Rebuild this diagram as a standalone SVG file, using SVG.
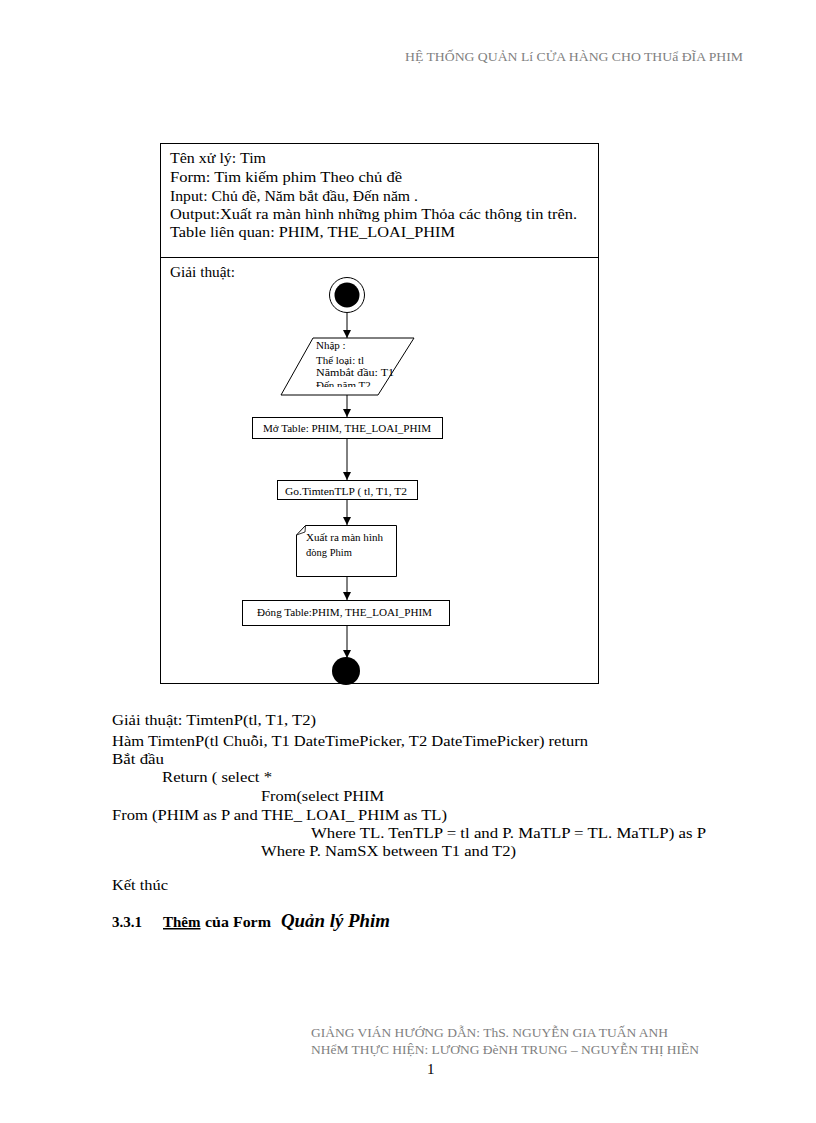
<svg xmlns="http://www.w3.org/2000/svg" width="816" height="1123" viewBox="0 0 816 1123">
<style>
  text { font-family: "Liberation Serif", "Times New Roman", serif; fill: #000; }
  .hdr { font-size: 12px; fill: #808080; }
  .body { font-size: 15px; }
  .small { font-size: 10.5px; }
  .para { font-size: 11px; }
  .shape { fill: #fff; stroke: #000; stroke-width: 1; }
  .frame { fill: none; stroke: #000; stroke-width: 1; }
  .conn { stroke: #000; stroke-width: 1; fill: none; marker-end: url(#arrow); }
</style>
<defs>
  <marker id="arrow" markerWidth="10" markerHeight="10" refX="9" refY="5" orient="auto" markerUnits="userSpaceOnUse">
    <path d="M1,1 L9,5 L1,9 Z" fill="#000"/>
  </marker>
  <clipPath id="paraClip">
    <rect x="280" y="338" width="140" height="49"/>
  </clipPath>
</defs>
<rect width="816" height="1123" fill="#fff"/>

<!-- header -->
<text class="hdr" x="405" y="61" textLength="338" lengthAdjust="spacingAndGlyphs">HỆ THỐNG  QUẢN  Lí CỬA HÀNG CHO  THUẩ ĐĨA PHIM</text>

<!-- frame -->
<g id="frame">
  <rect class="frame" x="160.5" y="143.5" width="438" height="540"/>
  <line x1="160.5" y1="257.5" x2="598.5" y2="257.5" stroke="#000"/>
  <text class="body" x="170" y="163" textLength="96" lengthAdjust="spacingAndGlyphs">Tên xử lý:  Tim</text>
  <text class="body" x="170" y="182" textLength="232" lengthAdjust="spacingAndGlyphs">Form:  Tim  kiếm  phim  Theo  chủ  đề</text>
  <text class="body" x="170" y="201" textLength="248" lengthAdjust="spacingAndGlyphs">Input:  Chủ đề, Năm bắt đầu, Đến năm  .</text>
  <text class="body" x="170" y="219" textLength="407" lengthAdjust="spacingAndGlyphs">Output:Xuất  ra màn  hình  những  phim  Thỏa các  thông  tin  trên.</text>
  <text class="body" x="170" y="237" textLength="285" lengthAdjust="spacingAndGlyphs">Table liên  quan:  PHIM, THE_LOAI_PHIM</text>
  <text class="body" x="170" y="277" textLength="65" lengthAdjust="spacingAndGlyphs">Giải  thuật:</text>
</g>

<!-- connectors -->
<g id="connectors">
  <line class="conn" x1="347" y1="313" x2="347" y2="338"/>
  <line class="conn" x1="347" y1="395" x2="347" y2="417"/>
  <line class="conn" x1="347" y1="438" x2="347" y2="480"/>
  <line class="conn" x1="347" y1="499" x2="347" y2="525"/>
  <line class="conn" x1="347" y1="576" x2="347" y2="600"/>
  <line class="conn" x1="347" y1="626" x2="347" y2="658"/>
</g>

<g id="start">
  <circle cx="347" cy="295" r="17.5" fill="#fff" stroke="#000"/>
  <circle cx="347" cy="295" r="12.5" fill="#000"/>
</g>

<g id="input">
  <polygon class="shape" points="313,338 414,338 378,395 281,395"/>
  <g clip-path="url(#paraClip)">
    <text class="para" x="316" y="349">Nhập :</text>
    <text class="para" x="316" y="364" textLength="48" lengthAdjust="spacingAndGlyphs">Thể loại: tl</text>
    <text class="para" x="316" y="376" textLength="78" lengthAdjust="spacingAndGlyphs">Nămbắt đầu: T1</text>
    <text class="para" x="316" y="389">Đến năm T2</text>
  </g>
</g>

<g id="open">
  <rect class="shape" x="252.5" y="417.5" width="190" height="21"/>
  <text class="small" x="347" y="431.5" text-anchor="middle" textLength="168" lengthAdjust="spacingAndGlyphs">Mở Table: PHIM, THE_LOAI_PHIM</text>
</g>

<g id="call">
  <rect class="shape" x="277.5" y="480.5" width="140" height="19"/>
  <text class="small" x="285" y="494.5" textLength="122" lengthAdjust="spacingAndGlyphs">Go.TimtenTLP ( tl, T1, T2</text>
</g>

<g id="output">
  <path class="shape" d="M305.5,525.5 L396.5,525.5 L396.5,576.5 L296.5,576.5 L296.5,535 Z"/>
  <path d="M296.5,535 L305,532 L305.5,525.5" fill="none" stroke="#000" stroke-width="0.8"/>
  <text class="small" x="306" y="541" textLength="77" lengthAdjust="spacingAndGlyphs">Xuất ra màn hình</text>
  <text class="small" x="306" y="556">đòng Phim</text>
</g>

<g id="close">
  <rect class="shape" x="242.5" y="600.5" width="207" height="25"/>
  <text class="small" x="257" y="615.5" textLength="175" lengthAdjust="spacingAndGlyphs">Đóng Table:PHIM, THE_LOAI_PHIM</text>
</g>

<g id="end">
  <circle cx="346" cy="671" r="14" fill="#000"/>
</g>

<!-- body text -->
<g id="algorithm">
  <text class="body" x="112" y="725" textLength="204" lengthAdjust="spacingAndGlyphs">Giải  thuật:  TimtenP(tl,   T1, T2)</text>
  <text class="body" x="112" y="746" textLength="476" lengthAdjust="spacingAndGlyphs">Hàm  TimtenP(tl   Chuỗi,  T1 DateTimePicker,   T2 DateTimePicker)   return</text>
  <text class="body" x="112" y="764" textLength="52" lengthAdjust="spacingAndGlyphs">Bắt  đầu</text>
  <text class="body" x="162" y="782" textLength="110" lengthAdjust="spacingAndGlyphs">Return  ( select  *</text>
  <text class="body" x="261" y="801" textLength="123" lengthAdjust="spacingAndGlyphs">From(select  PHIM</text>
  <text class="body" x="112" y="820" textLength="335" lengthAdjust="spacingAndGlyphs">From  (PHIM as P and THE_  LOAI_  PHIM as TL)</text>
  <text class="body" x="311" y="838" textLength="395" lengthAdjust="spacingAndGlyphs">Where TL.  TenTLP  =  tl and P.  MaTLP  = TL.  MaTLP)  as P</text>
  <text class="body" x="261" y="856" textLength="255" lengthAdjust="spacingAndGlyphs">Where P.  NamSX between  T1 and T2)</text>
  <text class="body" x="112" y="890" textLength="56" lengthAdjust="spacingAndGlyphs">Kết  thúc</text>
  <text x="112" y="927" style="font-size:15px;font-weight:bold">3.3.1</text>
  <text x="163" y="927" style="font-size:15px;font-weight:bold;text-decoration:underline">Thêm</text>
  <text x="205" y="927" style="font-size:15px;font-weight:bold" textLength="66" lengthAdjust="spacingAndGlyphs">của Form</text>
  <text x="281" y="927" style="font-size:18px;font-weight:bold;font-style:italic" textLength="109" lengthAdjust="spacingAndGlyphs">Quản lý Phim</text>
</g>

<!-- footer -->
<text class="hdr" x="311" y="1037" textLength="357" lengthAdjust="spacingAndGlyphs">GIẢNG  VIÁN  HƯỚNG  DẪN:  ThS.  NGUYỄN   GIA  TUẤN  ANH</text>
<text class="hdr" x="311" y="1054" textLength="388" lengthAdjust="spacingAndGlyphs">NHểM  THỰC  HIỆN:  LƯƠNG  ĐèNH  TRUNG  – NGUYỄN   THỊ  HIỀN</text>
<text class="body" x="427" y="1074">1</text>
</svg>
